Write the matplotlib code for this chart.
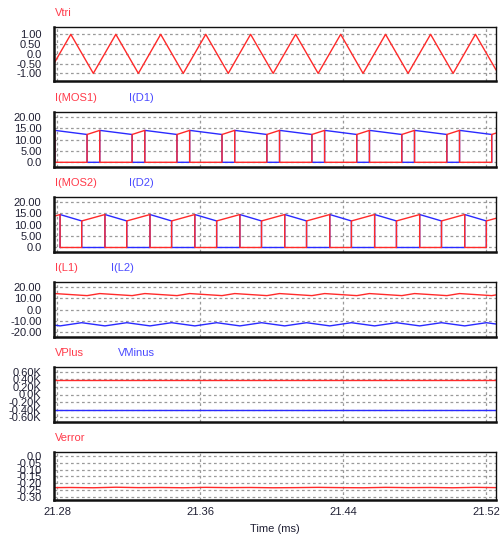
import matplotlib
matplotlib.use('Agg')
import matplotlib.pyplot as plt
from matplotlib.ticker import FixedLocator, FuncFormatter

plt.rcParams['font.family'] = ['Liberation Sans', 'DejaVu Sans']

# ---- data (time in ms) ----
t_start, t_end = 21.2783, 21.5256
x_ticks = [21.28, 21.36, 21.44, 21.52]

# Vtri corners
tri_t = [21.2783, 21.2877, 21.3003, 21.3129, 21.3255, 21.3380, 21.3506, 21.3632,
         21.3758, 21.3883, 21.4009, 21.4135, 21.4261, 21.4387, 21.4512, 21.4638,
         21.4764, 21.4890, 21.5016, 21.5141, 21.5256]
tri_v = [-0.49, 1.0, -1.0, 1.0, -1.0, 1.0, -1.0, 1.0, -1.0, 1.0, -1.0, 1.0,
         -1.0, 1.0, -1.0, 1.0, -1.0, 1.0, -1.0, 1.0, -0.82]

# switch 1 on / off instants, current at turn-on and turn-off
mos1_on = [21.2717, 21.2968, 21.3220, 21.3471, 21.3723, 21.3974, 21.4226,
           21.4477, 21.4729, 21.4981, 21.5232]
mos1_off = [21.2788, 21.3039, 21.3291, 21.3542, 21.3794, 21.4045, 21.4297,
            21.4548, 21.4800, 21.5052, 21.5303]
i1_lo, i1_hi = 12.2, 14.0

# switch 2
mos2_on = [21.2687, 21.2938, 21.3190, 21.3441, 21.3693, 21.3944, 21.4196,
           21.4447, 21.4699, 21.4951, 21.5202]
mos2_off = [21.2817, 21.3068, 21.3320, 21.3571, 21.3823, 21.4074, 21.4326,
            21.4577, 21.4829, 21.5081, 21.5332]
i2_lo, i2_hi = 11.6, 14.4

# output voltages (kV)
vplus = 0.39
vminus = -0.40

# Verror, sampled at the Vtri corners
verror_v = [-0.234, -0.233, -0.235, -0.231, -0.234, -0.233, -0.235, -0.232,
            -0.234, -0.233, -0.235, -0.234, -0.232, -0.234, -0.235, -0.232,
            -0.234, -0.233, -0.235, -0.232, -0.234]

RED = '#ff2a2a'
BLUE = '#2a2aff'
RED_TXT = '#ff3a4a'
BLUE_TXT = '#4a4aff'
TXT = '#202034'


def switch_pair(on_t, off_t, lo, hi):
    tm, im, td, idd = [], [], [], []
    for k in range(len(on_t)):
        tm += [on_t[k], on_t[k], off_t[k], off_t[k]]
        im += [0, lo, hi, 0]
        if k + 1 < len(on_t):
            td += [off_t[k], off_t[k], on_t[k + 1], on_t[k + 1]]
            idd += [0, hi, lo, 0]
    return tm, im, td, idd


def inductor(on_t, off_t, lo, hi, sign=1):
    t, v = [], []
    for k in range(len(on_t)):
        t += [on_t[k], off_t[k]]
        v += [sign * lo, sign * hi]
    return t, v


def fmt(v, suffix=''):
    if abs(v) < 1e-9:
        return '0.0' + suffix
    return '%.2f%s' % (v, suffix)


W, H = 502, 536
fig = plt.figure(figsize=(W / 100, H / 100), dpi=100)
fig.patch.set_facecolor('white')

left, right = 54, 496
# (top, bottom) px of each frame
frames = [(26.7, 81), (112.3, 166.7), (197.3, 252.3), (282.3, 336.7),
          (367.3, 421.7), (452.3, 500.3)]
ylims = [(-1.39, 1.39), (-1.93, 21.93), (-2.1, 21.93), (-23.9, 23.9),
         (-0.72, 0.72), (-0.328, 0.028)]
yticks = [[1.0, 0.5, 0.0, -0.5, -1.0],
          [20, 15, 10, 5, 0],
          [20, 15, 10, 5, 0],
          [20, 10, 0, -10, -20],
          [0.6, 0.4, 0.2, 0.0, -0.2, -0.4, -0.6],
          [0.0, -0.05, -0.10, -0.15, -0.20, -0.25, -0.30]]
labels = [[('Vtri', 55, RED_TXT)],
          [('I(MOS1)', 55, RED_TXT), ('I(D1)', 129, BLUE_TXT)],
          [('I(MOS2)', 55, RED_TXT), ('I(D2)', 129, BLUE_TXT)],
          [('I(L1)', 55, RED_TXT), ('I(L2)', 111, BLUE_TXT)],
          [('VPlus', 55, RED_TXT), ('VMinus', 118, BLUE_TXT)],
          [('Verror', 55, RED_TXT)]]

axes = []
for i, (top, bot) in enumerate(frames):
    ax = fig.add_axes([left / W, 1 - bot / H, (right - left) / W, (bot - top) / H])
    axes.append(ax)
    ax.set_xlim(t_start, t_end)
    ax.set_ylim(*ylims[i])
    ax.xaxis.set_major_locator(FixedLocator(x_ticks))
    ax.yaxis.set_major_locator(FixedLocator(yticks[i]))
    suffix = 'K' if i == 4 else ''
    ax.yaxis.set_major_formatter(FuncFormatter(lambda v, p, s=suffix: fmt(v, s)))
    ax.grid(True, color='#9a9a9a', linestyle=(0, (2.2, 2.2)), linewidth=0.9)
    ax.tick_params(length=0, pad=9, labelsize=8, colors=TXT)
    if i < 5:
        ax.tick_params(axis='x', labelbottom=False)
    else:
        ax.tick_params(axis='x', pad=5)
    for side in ['left', 'bottom']:
        ax.spines[side].set_linewidth(1.8)
    for side in ['top', 'right']:
        ax.spines[side].set_linewidth(1.0)
    for s in ax.spines.values():
        s.set_color('#111111')
    for txt, x, col in labels[i]:
        fig.text(x / W, 1 - (top - 14) / H, txt, color=col, fontsize=8,
                 ha='left', va='center')

# Vtri
axes[0].plot(tri_t, tri_v, color=RED, lw=1.0)

# switch 1 / diode 1
tm, im, td, idd = switch_pair(mos1_on, mos1_off, i1_lo, i1_hi)
axes[1].plot(td, idd, color=BLUE, lw=1.0)
axes[1].plot(tm, im, color=RED, lw=1.0)

# switch 2 / diode 2
tm, im, td, idd = switch_pair(mos2_on, mos2_off, i2_lo, i2_hi)
axes[2].plot(td, idd, color=BLUE, lw=1.0)
axes[2].plot(tm, im, color=RED, lw=1.0)

# inductor currents
tl, vl = inductor(mos1_on, mos1_off, i1_lo, i1_hi)
axes[3].plot(tl, vl, color=RED, lw=1.0)
tl, vl = inductor(mos2_on, mos2_off, i2_lo, i2_hi, sign=-1)
axes[3].plot(tl, vl, color=BLUE, lw=1.0)

# VPlus / VMinus
axes[4].plot([t_start, t_end], [vplus, vplus], color=RED, lw=1.0)
axes[4].plot([t_start, t_end], [vminus, vminus], color=BLUE, lw=1.0)

# Verror
axes[5].plot(tri_t, verror_v, color=RED, lw=1.0)

fig.text((left + right) / 2 / W, 1 - 529 / H, 'Time (ms)', fontsize=8,
         color=TXT, ha='center', va='center')

fig.savefig('out.png', dpi=100, facecolor='white')
